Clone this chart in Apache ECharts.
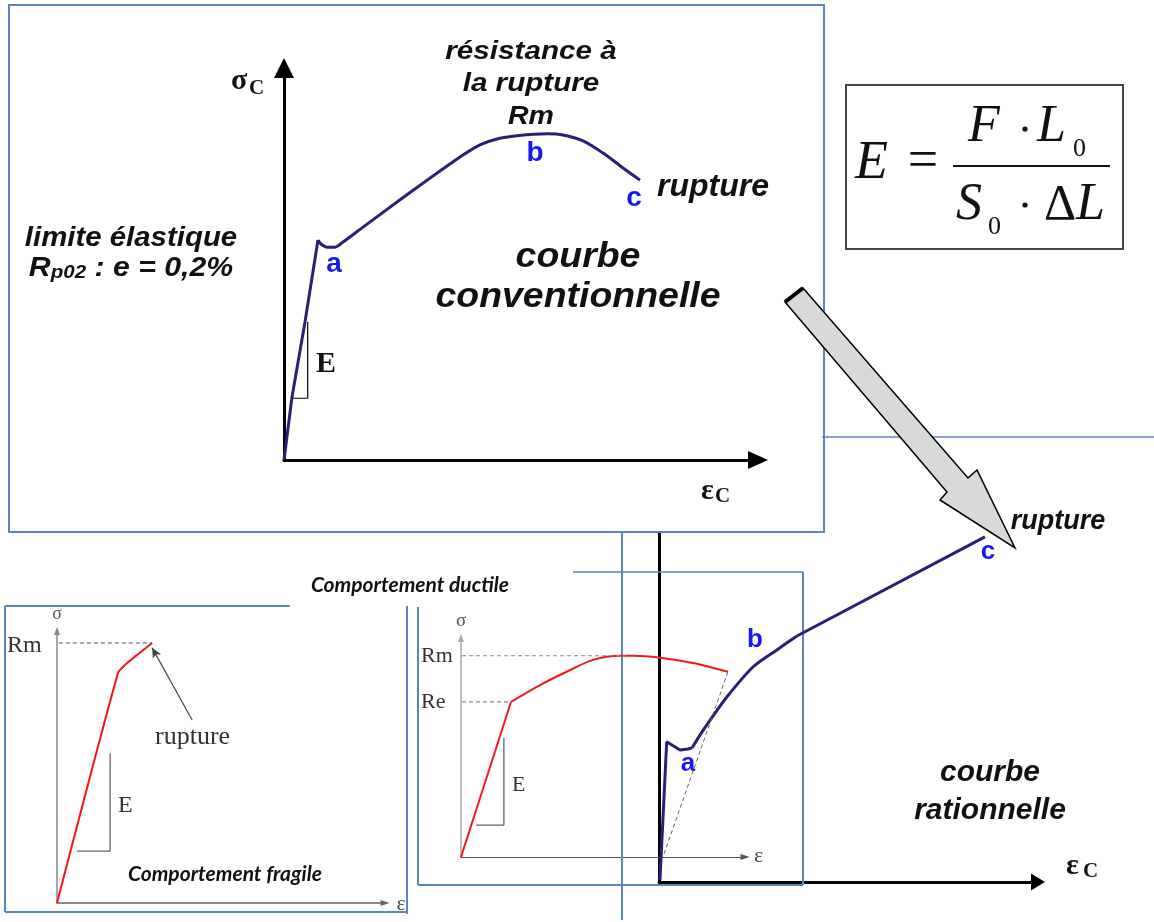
<!DOCTYPE html>
<html>
<head>
<meta charset="utf-8">
<script src="https://cdn.jsdelivr.net/npm/echarts@6/dist/echarts.min.js"></script>
<style>
  html, body { margin: 0; padding: 0; background: #fff; }
  #chart { width: 1154px; height: 922px; }
</style>
</head>
<body>
<div id="chart"></div>
<script>
// ---- Conventional (engineering) curve, axes scaled 0..100 ----
const convStrain = [0, 1.69, 4.43, 7.17, 7.81, 9.07, 10.76, 12.45, 16.67, 23.84, 30.80, 37.76, 41.35, 44.94, 49.16, 55.49, 58.86, 63.08, 67.30, 71.52, 75.11];
const convStress = [0, 16.1, 35.2, 56.1, 55.1, 54.3, 54.3, 55.6, 59.4, 65.8, 71.9, 77.8, 80.4, 81.9, 82.7, 83.2, 82.9, 81.4, 78.3, 74.5, 71.4];
const convElasticEnd = 3;            // index of the upper yield point
const convSlopeX = [1.65, 5.0, 5.0]; // slope triangle "E"
const convSlopeY = [15.75, 15.75, 35.2];

// ---- Rational (true) curve ----
const ratStrain = [0.26, 2.03, 5.54, 7.65, 8.71, 10.8, 13.5, 17.9, 24.8, 31.1, 36.4, 86.0];
const ratStress = [0.57, 40.2, 37.8, 38.1, 38.4, 42.1, 46.4, 53.0, 61.6, 66.5, 70.5, 98.9];
const ratYieldEnd = 4;
const ratNeckStart = 10;             // straight necking branch b → c

// ---- Brittle behaviour ----
const fragStrain = [0, 18.6, 20.7, 24.4, 29.0];
const fragStress = [0, 84.6, 87.5, 91.2, 95.6];
const fragRmX = [-3.7, 29.0];
const fragSlopeX = [6.1, 16.2, 16.2];
const fragSlopeY = [19.1, 19.1, 55.1];
const fragPointer = [[41.2, 67.3], [29.0, 93.8]];

// ---- Ductile behaviour ----
const ductStrain = [0, 17.6, 27.8, 37.2, 46.5, 56.0, 60.6, 70.1, 81.7, 94.0];
const ductStress = [0, 70.8, 78.5, 84.6, 90.0, 91.9, 91.9, 91.0, 88.6, 84.6];
const ductRmX = [-2.1, 58.0];
const ductReX = [-2.1, 17.6];
const ductUnloadX = [94.0, 71.1];
const ductUnloadY = [84.6, 0];
const ductSlopeX = [5.3, 15.1, 15.1];
const ductSlopeY = [14.6, 14.6, 54.3];

const INDIGO = '#2b1e78';
const RED = '#f2191b';
const LETTER = '#1717f2';
const FRAME = '#5a85c1';
const SANS = '"Liberation Sans", Arial, sans-serif';
const SERIF = '"Liberation Serif", "Times New Roman", serif';
const LATO = 'Lato, "Open Sans", sans-serif';

const zip = (xs, ys) => xs.map((x, i) => [x, ys[i]]);

function valueAxis(gridIndex, color, width, arrow) {
  return {
    type: 'value', gridIndex, min: 0, max: 100,
    axisLine: {
      show: true, onZero: false,
      lineStyle: { color, width },
      symbol: arrow ? ['none', 'triangle'] : 'none',
      symbolSize: arrow || [0, 0]
    },
    axisTick: { show: false }, axisLabel: { show: false }, splitLine: { show: false }
  };
}

function curve(grid, data, color, width, extra) {
  return Object.assign({
    type: 'line', xAxisIndex: grid, yAxisIndex: grid, data,
    symbol: 'none', showSymbol: false, silent: true, clip: false,
    lineStyle: { color, width }
  }, extra || {});
}

// text placed by its baseline; sx stretches it horizontally
function txt(x, base, text, size, family, opts, sx) {
  return {
    type: 'text', x, y: base - 0.3 * size, z: 20, silent: true,
    scaleX: sx || 1,
    style: Object.assign({
      text, fontSize: size, fontFamily: family, fill: '#111',
      align: 'left', verticalAlign: 'middle', textAlign: 'left', textVerticalAlign: 'middle'
    }, opts || {})
  };
}
const BI = { fontWeight: 'bold', fontStyle: 'italic' };
const C = (o) => Object.assign({ align: 'center', textAlign: 'center' }, o || {});

function seg(x1, y1, x2, y2, stroke, w, z) {
  return { type: 'line', z: z == null ? 1 : z, silent: true, shape: { x1, y1, x2, y2 }, style: { stroke, lineWidth: w } };
}

const graphic = [
  // frames
  { type: 'rect', z: 1, silent: true, shape: { x: 9, y: 5, width: 815, height: 527 }, style: { fill: 'none', stroke: FRAME, lineWidth: 2 } },
  seg(822, 437, 1154, 437, FRAME, 1.5),
  seg(5, 606, 290, 606, FRAME, 2), seg(5, 606, 5, 912, FRAME, 2),
  seg(5, 912, 407, 912, FRAME, 2), seg(407, 606, 407, 914, FRAME, 2),
  seg(418, 607, 418, 885, FRAME, 2), seg(418, 885, 803, 885, FRAME, 2),
  seg(803, 572, 803, 885, FRAME, 2), seg(573, 572, 803, 572, FRAME, 1.5),
  seg(622, 533, 622, 920, FRAME, 2),

  // formula box
  { type: 'rect', z: 1, silent: true, shape: { x: 846, y: 85, width: 277, height: 164 }, style: { fill: 'none', stroke: '#444', lineWidth: 2 } },
  txt(855, 180, 'E', 54, SERIF, { fontStyle: 'italic' }),
  txt(923, 179, '=', 54, SERIF, C()),
  seg(953, 166, 1110, 166, '#111', 2, 20),
  txt(968, 143, 'F', 52, SERIF, { fontStyle: 'italic' }),
  { type: 'circle', z: 20, silent: true, shape: { cx: 1025, cy: 129, r: 2.6 }, style: { fill: '#111' } },
  txt(1037, 143, 'L', 52, SERIF, { fontStyle: 'italic' }),
  txt(1073, 157, '0', 26, SERIF),
  txt(956, 221, 'S', 52, SERIF, { fontStyle: 'italic' }),
  txt(988, 235, '0', 26, SERIF),
  { type: 'circle', z: 20, silent: true, shape: { cx: 1025, cy: 205, r: 2.6 }, style: { fill: '#111' } },
  txt(1044, 221, 'Δ', 50, SERIF),
  txt(1076, 221, 'L', 52, SERIF, { fontStyle: 'italic' }),

  // transition arrow
  { type: 'polygon', z: 10, silent: true,
    shape: { points: [[785, 302], [947, 492], [940, 500], [1015, 548], [977, 470], [968, 478], [803, 288]] },
    style: { fill: '#d9d9d9', stroke: '#000', lineWidth: 1.5, lineJoin: 'miter' } },
  seg(785, 302, 803, 288, '#000', 4, 11),

  // conventional curve annotations
  txt(231, 90, 'σ', 30, SERIF, { fontWeight: 'bold' }),
  txt(249, 95, 'C', 21, SERIF, { fontWeight: 'bold' }),
  txt(701, 500, 'ε', 30, SERIF, { fontWeight: 'bold' }),
  txt(715, 503, 'C', 21, SERIF, { fontWeight: 'bold' }),
  txt(531, 60, 'résistance à', 26, SANS, C(BI), 1.14),
  txt(531, 92, 'la rupture', 26, SANS, C(BI), 1.14),
  txt(531, 125, 'Rm', 26, SANS, C(BI), 1.1),
  txt(657, 197, 'rupture', 32, SANS, BI),
  txt(578, 268, 'courbe', 35, SANS, C(BI), 1.07),
  txt(578, 308, 'conventionnelle', 35, SANS, C(BI), 1.07),
  txt(131, 247, 'limite élastique', 28, SANS, C(BI), 1.05),
  { type: 'text', x: 131, y: 268, z: 20, silent: true, scaleX: 1.08,
    style: { text: '{a|R}{b|p02}{a| : e = 0,2%}', align: 'center', textAlign: 'center', verticalAlign: 'middle', textVerticalAlign: 'middle', fill: '#111',
      rich: {
        a: { fontSize: 28, fontFamily: SANS, fontWeight: 'bold', fontStyle: 'italic', fill: '#111', verticalAlign: 'bottom' },
        b: { fontSize: 19, fontFamily: SANS, fontWeight: 'bold', fontStyle: 'italic', fill: '#111', verticalAlign: 'bottom' }
      } } },
  txt(316, 373, 'E', 30, SERIF, { fontWeight: 'bold' }),
  txt(334, 273, 'a', 28, SANS, C({ fontWeight: 'bold', fill: LETTER })),
  txt(535, 162, 'b', 28, SANS, C({ fontWeight: 'bold', fill: LETTER })),
  txt(634, 207, 'c', 28, SANS, C({ fontWeight: 'bold', fill: LETTER })),

  // rational curve annotations
  txt(688, 772, 'a', 26, SANS, C({ fontWeight: 'bold', fill: LETTER })),
  txt(755, 648, 'b', 26, SANS, C({ fontWeight: 'bold', fill: LETTER })),
  txt(988, 560, 'c', 26, SANS, C({ fontWeight: 'bold', fill: LETTER })),
  txt(1058, 530, 'rupture', 27, SANS, C(BI)),
  txt(990, 782, 'courbe', 30, SANS, C(BI)),
  txt(990, 820, 'rationnelle', 30, SANS, C(BI)),
  txt(1066, 875, 'ε', 30, SERIF, { fontWeight: 'bold' }),
  txt(1083, 878, 'C', 21, SERIF, { fontWeight: 'bold' }),

  // brittle panel
  txt(7, 653, 'Rm', 24, SERIF, { fill: '#333' }),
  txt(155, 745, 'rupture', 26, SERIF, { fill: '#333' }),
  txt(118, 813, 'E', 24, SERIF, { fill: '#333' }),
  txt(57, 620, 'σ', 18, SERIF, C({ fill: '#555' })),
  txt(401, 911, 'ε', 22, SERIF, C({ fill: '#444' })),
  txt(225, 881, 'Comportement fragile', 21, LATO, C(BI)),

  // ductile panel
  txt(421, 663, 'Rm', 22, SERIF, { fill: '#333' }),
  txt(421, 709, 'Re', 22, SERIF, { fill: '#333' }),
  txt(512, 792, 'E', 22, SERIF, { fill: '#333' }),
  txt(461, 627, 'σ', 19, SERIF, C({ fill: '#555' })),
  txt(754, 863, 'ε', 22, SERIF, { fill: '#444' }),
  txt(410, 592, 'Comportement ductile', 21, LATO, C(BI))
];

const convPts = zip(convStrain, convStress);
const ratPts = zip(ratStrain, ratStress);
const ductPts = zip(ductStrain, ductStress);
const dashed = (color, w) => ({ color, width: w, type: [4, 3] });

const option = {
  animation: false,
  backgroundColor: '#fff',
  grid: [
    { left: 284, top: 68, width: 474, height: 392 },
    { left: 659, top: 533, width: 379, height: 349 },
    { left: 57, top: 631, width: 328, height: 272 },
    { left: 461, top: 638, width: 284, height: 219 }
  ],
  xAxis: [
    valueAxis(0, '#000', 3, [18, 20]),
    valueAxis(1, '#000', 3, [17, 14]),
    valueAxis(2, '#666', 1.5, [6, 9]),
    valueAxis(3, '#555', 1.2, [6, 9])
  ],
  yAxis: [
    valueAxis(0, '#000', 3, [20, 20]),
    valueAxis(1, '#000', 3, null),
    valueAxis(2, '#888', 1.5, [6, 8]),
    valueAxis(3, '#aaa', 1.5, [6, 8])
  ],
  series: [
    // conventional
    curve(0, convPts.slice(0, convElasticEnd + 1), INDIGO, 3),
    curve(0, convPts.slice(convElasticEnd), INDIGO, 3, { smooth: 0.3 }),
    curve(0, zip(convSlopeX, convSlopeY), '#000', 1.2),
    // rational
    curve(1, ratPts.slice(0, ratYieldEnd + 1), INDIGO, 3),
    curve(1, ratPts.slice(ratYieldEnd, ratNeckStart + 1), INDIGO, 3, { smooth: 0.3 }),
    curve(1, ratPts.slice(ratNeckStart), INDIGO, 3),
    // brittle
    curve(2, zip(fragStrain, fragStress), RED, 2, {
      smooth: 0.2,
      markLine: {
        silent: true, symbol: ['none', 'arrow'], symbolSize: [7, 10],
        label: { show: false }, lineStyle: { color: '#444', width: 1.2, type: 'solid' },
        data: [[{ coord: fragPointer[0] }, { coord: fragPointer[1] }]]
      }
    }),
    curve(2, fragRmX.map(x => [x, fragStress[fragStress.length - 1]]), '#555', 1, { lineStyle: dashed('#555', 1) }),
    curve(2, zip(fragSlopeX, fragSlopeY), '#666', 1.3),
    // ductile
    curve(3, ductPts.slice(0, 2), RED, 2),
    curve(3, ductPts.slice(1), RED, 2, { smooth: 0.3 }),
    curve(3, ductRmX.map(x => [x, 91.9]), '#888', 1, { lineStyle: dashed('#888', 1.2) }),
    curve(3, ductReX.map(x => [x, ductStress[1]]), '#888', 1, { lineStyle: dashed('#888', 1.2) }),
    curve(3, zip(ductUnloadX, ductUnloadY), '#666', 1, { lineStyle: dashed('#666', 1) }),
    curve(3, zip(ductSlopeX, ductSlopeY), '#666', 1.3)
  ],
  graphic
};

const chart = echarts.init(document.getElementById('chart'), null, { renderer: 'canvas' });
chart.setOption(option);
</script>
</body>
</html>
